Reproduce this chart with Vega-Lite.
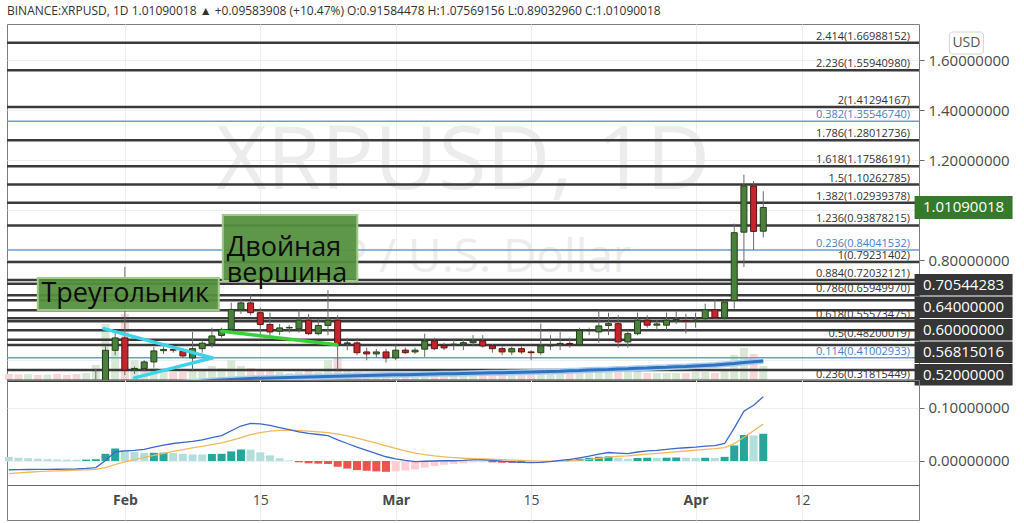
{
  "$schema": "https://vega.github.io/schema/vega-lite/v6.json",
  "background": "white",
  "padding": {"left": 4, "top": 4, "right": 0, "bottom": 0},
  "title": {"text": "BINANCE:XRPUSD, 1D  1.01090018 ▲ +0.09583908 (+10.47%)  O:0.91584478  H:1.07569156  L:0.89032960  C:1.01090018", "anchor": "start", "frame": "group", "fontSize": 12, "font": "Open Sans", "fontWeight": "normal", "color": "#333333", "offset": 6},
  "datasets": {
    "ohlc": [
      {"date": "2021-01-20", "open": 0.281, "high": 0.289, "low": 0.262, "close": 0.276, "volume": 120, "ma": 0.272, "macd": -0.0165, "signal": -0.024, "hist": 0.0075},
      {"date": "2021-01-21", "open": 0.276, "high": 0.279, "low": 0.248, "close": 0.255, "volume": 110, "ma": 0.273, "macd": -0.0163, "signal": -0.0225, "hist": 0.0062},
      {"date": "2021-01-22", "open": 0.255, "high": 0.276, "low": 0.244, "close": 0.272, "volume": 120, "ma": 0.274, "macd": -0.016, "signal": -0.0212, "hist": 0.0052},
      {"date": "2021-01-23", "open": 0.272, "high": 0.276, "low": 0.265, "close": 0.269, "volume": 100, "ma": 0.275, "macd": -0.0158, "signal": -0.0201, "hist": 0.0043},
      {"date": "2021-01-24", "open": 0.269, "high": 0.278, "low": 0.266, "close": 0.274, "volume": 110, "ma": 0.276, "macd": -0.0157, "signal": -0.0192, "hist": 0.0035},
      {"date": "2021-01-25", "open": 0.274, "high": 0.279, "low": 0.268, "close": 0.271, "volume": 120, "ma": 0.277, "macd": -0.0156, "signal": -0.0185, "hist": 0.0029},
      {"date": "2021-01-26", "open": 0.271, "high": 0.273, "low": 0.26, "close": 0.268, "volume": 100, "ma": 0.278, "macd": -0.0154, "signal": -0.0179, "hist": 0.0025},
      {"date": "2021-01-27", "open": 0.268, "high": 0.27, "low": 0.254, "close": 0.259, "volume": 120, "ma": 0.279, "macd": -0.015, "signal": -0.0173, "hist": 0.0023},
      {"date": "2021-01-28", "open": 0.259, "high": 0.273, "low": 0.256, "close": 0.269, "volume": 140, "ma": 0.281, "macd": -0.014, "signal": -0.0166, "hist": 0.0026},
      {"date": "2021-01-29", "open": 0.269, "high": 0.365, "low": 0.262, "close": 0.283, "volume": 300, "ma": 0.283, "macd": -0.0125, "signal": -0.0158, "hist": 0.0033},
      {"date": "2021-01-30", "open": 0.283, "high": 0.455, "low": 0.276, "close": 0.4395, "volume": 1120, "ma": 0.286, "macd": 0.001, "signal": -0.0125, "hist": 0.0135},
      {"date": "2021-01-31", "open": 0.4395, "high": 0.52, "low": 0.42, "close": 0.489, "volume": 600, "ma": 0.289, "macd": 0.017, "signal": -0.0066, "hist": 0.0236},
      {"date": "2021-02-01", "open": 0.489, "high": 0.773, "low": 0.34, "close": 0.36, "volume": 1320, "ma": 0.292, "macd": 0.019, "signal": -0.0015, "hist": 0.0205},
      {"date": "2021-02-02", "open": 0.362, "high": 0.375, "low": 0.345, "close": 0.367, "volume": 400, "ma": 0.295, "macd": 0.02, "signal": 0.0028, "hist": 0.0172},
      {"date": "2021-02-03", "open": 0.367, "high": 0.4, "low": 0.355, "close": 0.393, "volume": 240, "ma": 0.298, "macd": 0.022, "signal": 0.0067, "hist": 0.0153},
      {"date": "2021-02-04", "open": 0.393, "high": 0.453, "low": 0.37, "close": 0.437, "volume": 240, "ma": 0.301, "macd": 0.026, "signal": 0.0105, "hist": 0.0155},
      {"date": "2021-02-05", "open": 0.438, "high": 0.455, "low": 0.425, "close": 0.443, "volume": 180, "ma": 0.304, "macd": 0.03, "signal": 0.0144, "hist": 0.0156},
      {"date": "2021-02-06", "open": 0.443, "high": 0.452, "low": 0.43, "close": 0.44, "volume": 160, "ma": 0.307, "macd": 0.033, "signal": 0.0181, "hist": 0.0149},
      {"date": "2021-02-07", "open": 0.435, "high": 0.447, "low": 0.41, "close": 0.417, "volume": 160, "ma": 0.31, "macd": 0.035, "signal": 0.0215, "hist": 0.0135},
      {"date": "2021-02-08", "open": 0.409, "high": 0.513, "low": 0.36, "close": 0.446, "volume": 220, "ma": 0.313, "macd": 0.037, "signal": 0.0246, "hist": 0.0124},
      {"date": "2021-02-09", "open": 0.446, "high": 0.48, "low": 0.43, "close": 0.468, "volume": 200, "ma": 0.316, "macd": 0.04, "signal": 0.0277, "hist": 0.0123},
      {"date": "2021-02-10", "open": 0.466, "high": 0.53, "low": 0.45, "close": 0.497, "volume": 280, "ma": 0.319, "macd": 0.044, "signal": 0.0309, "hist": 0.0131},
      {"date": "2021-02-11", "open": 0.499, "high": 0.53, "low": 0.49, "close": 0.523, "volume": 240, "ma": 0.321, "macd": 0.048, "signal": 0.0344, "hist": 0.0136},
      {"date": "2021-02-12", "open": 0.523, "high": 0.63, "low": 0.51, "close": 0.603, "volume": 400, "ma": 0.323, "macd": 0.057, "signal": 0.0389, "hist": 0.0181},
      {"date": "2021-02-13", "open": 0.602, "high": 0.646, "low": 0.585, "close": 0.629, "volume": 280, "ma": 0.325, "macd": 0.066, "signal": 0.0443, "hist": 0.0217},
      {"date": "2021-02-14", "open": 0.629, "high": 0.66, "low": 0.58, "close": 0.59, "volume": 240, "ma": 0.327, "macd": 0.071, "signal": 0.0496, "hist": 0.0214},
      {"date": "2021-02-15", "open": 0.59, "high": 0.61, "low": 0.49, "close": 0.543, "volume": 200, "ma": 0.328, "macd": 0.07, "signal": 0.0537, "hist": 0.0163},
      {"date": "2021-02-16", "open": 0.543, "high": 0.59, "low": 0.49, "close": 0.513, "volume": 180, "ma": 0.329, "macd": 0.067, "signal": 0.0564, "hist": 0.0106},
      {"date": "2021-02-17", "open": 0.516, "high": 0.545, "low": 0.5, "close": 0.529, "volume": 160, "ma": 0.33, "macd": 0.063, "signal": 0.0577, "hist": 0.0053},
      {"date": "2021-02-18", "open": 0.529, "high": 0.54, "low": 0.51, "close": 0.531, "volume": 140, "ma": 0.331, "macd": 0.059, "signal": 0.058, "hist": 0.001},
      {"date": "2021-02-19", "open": 0.526, "high": 0.6, "low": 0.51, "close": 0.56, "volume": 160, "ma": 0.332, "macd": 0.055, "signal": 0.0574, "hist": -0.0024},
      {"date": "2021-02-20", "open": 0.56, "high": 0.585, "low": 0.5, "close": 0.506, "volume": 200, "ma": 0.333, "macd": 0.052, "signal": 0.0563, "hist": -0.0043},
      {"date": "2021-02-21", "open": 0.506, "high": 0.565, "low": 0.5, "close": 0.539, "volume": 160, "ma": 0.334, "macd": 0.05, "signal": 0.055, "hist": -0.005},
      {"date": "2021-02-22", "open": 0.539, "high": 0.68, "low": 0.5, "close": 0.56, "volume": 400, "ma": 0.335, "macd": 0.048, "signal": 0.0536, "hist": -0.0056},
      {"date": "2021-02-23", "open": 0.56, "high": 0.58, "low": 0.36, "close": 0.466, "volume": 440, "ma": 0.336, "macd": 0.04, "signal": 0.0509, "hist": -0.0109},
      {"date": "2021-02-24", "open": 0.466, "high": 0.49, "low": 0.44, "close": 0.469, "volume": 200, "ma": 0.337, "macd": 0.033, "signal": 0.0473, "hist": -0.0143},
      {"date": "2021-02-25", "open": 0.469, "high": 0.49, "low": 0.42, "close": 0.43, "volume": 160, "ma": 0.338, "macd": 0.026, "signal": 0.0431, "hist": -0.0171},
      {"date": "2021-02-26", "open": 0.433, "high": 0.45, "low": 0.4, "close": 0.425, "volume": 140, "ma": 0.339, "macd": 0.02, "signal": 0.0384, "hist": -0.0184},
      {"date": "2021-02-27", "open": 0.425, "high": 0.445, "low": 0.41, "close": 0.433, "volume": 120, "ma": 0.34, "macd": 0.014, "signal": 0.0336, "hist": -0.0196},
      {"date": "2021-02-28", "open": 0.433, "high": 0.445, "low": 0.39, "close": 0.409, "volume": 140, "ma": 0.341, "macd": 0.008, "signal": 0.0284, "hist": -0.0204},
      {"date": "2021-03-01", "open": 0.409, "high": 0.46, "low": 0.4, "close": 0.44, "volume": 160, "ma": 0.342, "macd": 0.004, "signal": 0.0236, "hist": -0.0196},
      {"date": "2021-03-02", "open": 0.44, "high": 0.45, "low": 0.425, "close": 0.43, "volume": 140, "ma": 0.342, "macd": 0.001, "signal": 0.019, "hist": -0.018},
      {"date": "2021-03-03", "open": 0.433, "high": 0.45, "low": 0.425, "close": 0.44, "volume": 130, "ma": 0.343, "macd": -0.001, "signal": 0.015, "hist": -0.016},
      {"date": "2021-03-04", "open": 0.444, "high": 0.506, "low": 0.413, "close": 0.477, "volume": 180, "ma": 0.344, "macd": -0.0005, "signal": 0.0119, "hist": -0.0124},
      {"date": "2021-03-05", "open": 0.477, "high": 0.49, "low": 0.44, "close": 0.446, "volume": 160, "ma": 0.345, "macd": 0.0, "signal": 0.0095, "hist": -0.0095},
      {"date": "2021-03-06", "open": 0.459, "high": 0.47, "low": 0.44, "close": 0.449, "volume": 120, "ma": 0.346, "macd": 0.0005, "signal": 0.0077, "hist": -0.0072},
      {"date": "2021-03-07", "open": 0.462, "high": 0.48, "low": 0.44, "close": 0.464, "volume": 120, "ma": 0.346, "macd": 0.0005, "signal": 0.0063, "hist": -0.0058},
      {"date": "2021-03-08", "open": 0.464, "high": 0.485, "low": 0.44, "close": 0.47, "volume": 130, "ma": 0.347, "macd": 0.001, "signal": 0.0052, "hist": -0.0042},
      {"date": "2021-03-09", "open": 0.47, "high": 0.5, "low": 0.455, "close": 0.477, "volume": 140, "ma": 0.348, "macd": 0.002, "signal": 0.0046, "hist": -0.0026},
      {"date": "2021-03-10", "open": 0.477, "high": 0.5, "low": 0.45, "close": 0.457, "volume": 160, "ma": 0.349, "macd": 0.002, "signal": 0.0041, "hist": -0.0021},
      {"date": "2021-03-11", "open": 0.457, "high": 0.465, "low": 0.43, "close": 0.446, "volume": 140, "ma": 0.35, "macd": 0.001, "signal": 0.0035, "hist": -0.0025},
      {"date": "2021-03-12", "open": 0.446, "high": 0.455, "low": 0.42, "close": 0.433, "volume": 140, "ma": 0.35, "macd": -0.0005, "signal": 0.0027, "hist": -0.0032},
      {"date": "2021-03-13", "open": 0.433, "high": 0.455, "low": 0.42, "close": 0.446, "volume": 120, "ma": 0.351, "macd": -0.0015, "signal": 0.0018, "hist": -0.0033},
      {"date": "2021-03-14", "open": 0.446, "high": 0.455, "low": 0.425, "close": 0.433, "volume": 110, "ma": 0.352, "macd": -0.0025, "signal": 0.001, "hist": -0.0035},
      {"date": "2021-03-15", "open": 0.433, "high": 0.44, "low": 0.4, "close": 0.43, "volume": 130, "ma": 0.353, "macd": -0.003, "signal": 0.0002, "hist": -0.0032},
      {"date": "2021-03-16", "open": 0.43, "high": 0.546, "low": 0.42, "close": 0.457, "volume": 160, "ma": 0.354, "macd": -0.0025, "signal": -0.0004, "hist": -0.0021},
      {"date": "2021-03-17", "open": 0.457, "high": 0.5, "low": 0.44, "close": 0.46, "volume": 140, "ma": 0.355, "macd": -0.001, "signal": -0.0005, "hist": -0.0005},
      {"date": "2021-03-18", "open": 0.465, "high": 0.513, "low": 0.44, "close": 0.467, "volume": 140, "ma": 0.356, "macd": 0.001, "signal": -0.0002, "hist": 0.0012},
      {"date": "2021-03-19", "open": 0.467, "high": 0.49, "low": 0.45, "close": 0.462, "volume": 140, "ma": 0.358, "macd": 0.003, "signal": 0.0004, "hist": 0.0026},
      {"date": "2021-03-20", "open": 0.462, "high": 0.53, "low": 0.455, "close": 0.519, "volume": 240, "ma": 0.359, "macd": 0.006, "signal": 0.0016, "hist": 0.0044},
      {"date": "2021-03-21", "open": 0.519, "high": 0.53, "low": 0.5, "close": 0.52, "volume": 160, "ma": 0.361, "macd": 0.009, "signal": 0.003, "hist": 0.006},
      {"date": "2021-03-22", "open": 0.513, "high": 0.6, "low": 0.47, "close": 0.537, "volume": 240, "ma": 0.362, "macd": 0.013, "signal": 0.005, "hist": 0.008},
      {"date": "2021-03-23", "open": 0.539, "high": 0.59, "low": 0.5, "close": 0.546, "volume": 200, "ma": 0.363, "macd": 0.016, "signal": 0.0072, "hist": 0.0088},
      {"date": "2021-03-24", "open": 0.546, "high": 0.58, "low": 0.45, "close": 0.473, "volume": 240, "ma": 0.365, "macd": 0.015, "signal": 0.0088, "hist": 0.0062},
      {"date": "2021-03-25", "open": 0.473, "high": 0.52, "low": 0.45, "close": 0.506, "volume": 200, "ma": 0.366, "macd": 0.014, "signal": 0.0098, "hist": 0.0042},
      {"date": "2021-03-26", "open": 0.506, "high": 0.59, "low": 0.5, "close": 0.56, "volume": 200, "ma": 0.368, "macd": 0.017, "signal": 0.0113, "hist": 0.0057},
      {"date": "2021-03-27", "open": 0.56, "high": 0.58, "low": 0.53, "close": 0.54, "volume": 140, "ma": 0.369, "macd": 0.019, "signal": 0.0128, "hist": 0.0062},
      {"date": "2021-03-28", "open": 0.54, "high": 0.56, "low": 0.52, "close": 0.545, "volume": 140, "ma": 0.371, "macd": 0.02, "signal": 0.0142, "hist": 0.0058},
      {"date": "2021-03-29", "open": 0.54, "high": 0.59, "low": 0.52, "close": 0.56, "volume": 140, "ma": 0.372, "macd": 0.022, "signal": 0.0158, "hist": 0.0062},
      {"date": "2021-03-30", "open": 0.56, "high": 0.595, "low": 0.545, "close": 0.562, "volume": 140, "ma": 0.374, "macd": 0.024, "signal": 0.0174, "hist": 0.0066},
      {"date": "2021-03-31", "open": 0.558, "high": 0.586, "low": 0.506, "close": 0.557, "volume": 140, "ma": 0.375, "macd": 0.025, "signal": 0.0189, "hist": 0.0061},
      {"date": "2021-04-01", "open": 0.557, "high": 0.59, "low": 0.53, "close": 0.56, "volume": 160, "ma": 0.377, "macd": 0.026, "signal": 0.0204, "hist": 0.0056},
      {"date": "2021-04-02", "open": 0.566, "high": 0.626, "low": 0.56, "close": 0.602, "volume": 160, "ma": 0.379, "macd": 0.028, "signal": 0.0219, "hist": 0.0061},
      {"date": "2021-04-03", "open": 0.602, "high": 0.646, "low": 0.565, "close": 0.57, "volume": 140, "ma": 0.381, "macd": 0.029, "signal": 0.0233, "hist": 0.0057},
      {"date": "2021-04-04", "open": 0.569, "high": 0.64, "low": 0.56, "close": 0.633, "volume": 180, "ma": 0.384, "macd": 0.033, "signal": 0.0252, "hist": 0.0078},
      {"date": "2021-04-05", "open": 0.639, "high": 0.946, "low": 0.606, "close": 0.91, "volume": 500, "ma": 0.387, "macd": 0.062, "signal": 0.0326, "hist": 0.0294},
      {"date": "2021-04-06", "open": 0.912, "high": 1.142, "low": 0.773, "close": 1.097, "volume": 640, "ma": 0.391, "macd": 0.094, "signal": 0.0449, "hist": 0.0491},
      {"date": "2021-04-07", "open": 1.097, "high": 1.116, "low": 0.841, "close": 0.9151, "volume": 520, "ma": 0.394, "macd": 0.105, "signal": 0.0569, "hist": 0.0481},
      {"date": "2021-04-08", "open": 0.91584478, "high": 1.07569156, "low": 0.8903296, "close": 1.01090018, "volume": 280, "ma": 0.397, "macd": 0.121, "signal": 0.0697, "hist": 0.0513}
    ],
    "levels": [
      {"label": "2.414(1.66988152)", "price": 1.66988152, "kind": "fib"},
      {"label": "2.236(1.55940980)", "price": 1.5594098, "kind": "fib"},
      {"label": "2(1.41294167)", "price": 1.41294167, "kind": "fib"},
      {"label": "0.382(1.35546740)", "price": 1.3554674, "kind": "blue"},
      {"label": "1.786(1.28012736)", "price": 1.28012736, "kind": "fib"},
      {"label": "1.618(1.17586191)", "price": 1.17586191, "kind": "fib"},
      {"label": "1.5(1.10262785)", "price": 1.10262785, "kind": "fib"},
      {"label": "1.382(1.02939378)", "price": 1.02939378, "kind": "fib"},
      {"label": "1.236(0.93878215)", "price": 0.93878215, "kind": "fib"},
      {"label": "0.236(0.84041532)", "price": 0.84041532, "kind": "blue"},
      {"label": "1(0.79231402)", "price": 0.79231402, "kind": "fib"},
      {"label": "0.884(0.72032121)", "price": 0.72032121, "kind": "fib"},
      {"label": "0.786(0.65949970)", "price": 0.6594997, "kind": "fib"},
      {"label": "0.618(0.55573475)", "price": 0.55573475, "kind": "fib"},
      {"label": "0.5(0.48200019)", "price": 0.48200019, "kind": "fib"},
      {"label": "0.114(0.41002933)", "price": 0.41002933, "kind": "blue"},
      {"label": "0.236(0.31815449)", "price": 0.31815449, "kind": "fib"},
      {"label": null, "price": 0.70544283, "kind": "hline"},
      {"label": null, "price": 0.64, "kind": "hline"},
      {"label": null, "price": 0.6, "kind": "hline"},
      {"label": null, "price": 0.56815016, "kind": "hline"},
      {"label": null, "price": 0.52, "kind": "hline"},
      {"label": null, "price": 0.4607, "kind": "hline"},
      {"label": null, "price": 0.3607, "kind": "hline"}
    ]
  },
  "spacing": 0,
  "bounds": "flush",
  "vconcat": [
    {
      "width": 912,
      "height": 356,
      "layer": [
        {
          "data": {"name": "ohlc"},
          "mark": {"type": "bar", "width": 8},
          "encoding": {
            "x": {"field": "date", "type": "temporal", "scale": {"type": "utc", "domain": [{"year": 2021, "month": 1, "date": 20, "hours": 8, "utc": true}, {"year": 2021, "month": 4, "date": 23, "hours": 14, "utc": true}]}, "axis": {"values": [{"year": 2021, "month": 2, "date": 1, "utc": true}, {"year": 2021, "month": 2, "date": 15, "utc": true}, {"year": 2021, "month": 3, "date": 1, "utc": true}, {"year": 2021, "month": 3, "date": 15, "utc": true}, {"year": 2021, "month": 4, "date": 1, "utc": true}, {"year": 2021, "month": 4, "date": 12, "utc": true}], "labels": false, "ticks": false, "domain": false, "title": null, "grid": true, "gridColor": "#eeeeee"}},
            "y": {"field": "volume", "type": "quantitative", "scale": {"domain": [0, 7120]}, "axis": null},
            "color": {"condition": {"test": "datum.close >= datum.open", "value": "#d8e8d5"}, "value": "#f5d7d7"}
          }
        },
        {
          "layer": [
            {
              "data": {"values": [{"t": "XRPUSD, 1D", "date": "2021-03-07T23:00:00Z", "price": 1.0847}]},
              "mark": {"type": "text", "fontSize": 88, "color": "#ececec", "align": "center", "baseline": "alphabetic", "font": "Open Sans"},
              "encoding": {
                "x": {"field": "date", "type": "temporal", "scale": {"type": "utc", "domain": [{"year": 2021, "month": 1, "date": 20, "hours": 8, "utc": true}, {"year": 2021, "month": 4, "date": 23, "hours": 14, "utc": true}]}},
                "y": {"field": "price", "type": "quantitative", "scale": {"domain": [0.3207, 1.7447], "zero": false, "nice": false}, "axis": {"orient": "right", "values": [0.4, 0.6, 0.8, 1.0, 1.2, 1.4, 1.6], "labelExpr": "(datum.value > 0.79 && datum.value < 0.81) || datum.value > 1.1 ? format(datum.value, '.8f') : ''", "title": null, "domain": false, "tickSize": 5, "tickColor": "#666666", "labelPadding": 4, "labelFontSize": 15, "labelColor": "#4a4a4a", "labelFont": "Open Sans", "grid": true, "gridColor": "#eeeeee"}},
                "text": {"field": "t"}
              }
            },
            {
              "data": {"values": [{"t": "XRP / U.S. Dollar", "date": "2021-03-07T11:00:00Z", "price": 0.7527}]},
              "mark": {"type": "text", "fontSize": 46, "color": "#ececec", "align": "center", "baseline": "alphabetic", "font": "Open Sans"},
              "encoding": {
                "x": {"field": "date", "type": "temporal"},
                "y": {"field": "price", "type": "quantitative"},
                "text": {"field": "t"}
              }
            },
            {
              "data": {"name": "levels"},
              "mark": {"type": "rule"},
              "encoding": {
                "y": {"field": "price", "type": "quantitative"},
                "color": {"condition": {"test": "datum.kind == 'blue'", "value": "#6a9bd6"}, "value": "#3a3a3a"},
                "strokeWidth": {"condition": {"test": "datum.kind == 'blue'", "value": 1.5}, "value": 2.5}
              }
            },
            {
              "data": {"name": "ohlc"},
              "mark": {"type": "line", "color": "#a9cdee", "strokeWidth": 6, "clip": true},
              "encoding": {
                "x": {"field": "date", "type": "temporal"},
                "y": {"field": "ma", "type": "quantitative"}
              }
            },
            {
              "data": {"name": "ohlc"},
              "mark": {"type": "line", "color": "#2f72c2", "strokeWidth": 3, "clip": true},
              "encoding": {
                "x": {"field": "date", "type": "temporal"},
                "y": {"field": "ma", "type": "quantitative"}
              }
            },
            {
              "data": {"name": "ohlc"},
              "mark": {"type": "rule", "color": "#6a6a6a", "strokeWidth": 1, "clip": true},
              "encoding": {
                "x": {"field": "date", "type": "temporal"},
                "y": {"field": "low", "type": "quantitative"},
                "y2": {"field": "high"}
              }
            },
            {
              "data": {"name": "ohlc"},
              "mark": {"type": "bar", "width": 6, "strokeWidth": 1, "clip": true},
              "encoding": {
                "x": {"field": "date", "type": "temporal"},
                "y": {"field": "open", "type": "quantitative"},
                "y2": {"field": "close"},
                "fill": {"condition": {"test": "datum.close >= datum.open", "value": "#4b803c"}, "value": "#c2262c"},
                "stroke": {"condition": {"test": "datum.close >= datum.open", "value": "#23401b"}, "value": "#5e1212"}
              }
            },
            {
              "data": {"values": [
                {"name": "tri", "d1": "2021-01-29T20:00:00Z", "p1": 0.526, "d2": "2021-02-10T01:00:00Z", "p2": 0.409},
                {"name": "tri", "d1": "2021-02-02T00:00:00Z", "p1": 0.329, "d2": "2021-02-10T01:00:00Z", "p2": 0.409},
                {"name": "top", "d1": "2021-02-11T01:00:00Z", "p1": 0.5155, "d2": "2021-02-22T22:00:00Z", "p2": 0.462}
              ]},
              "mark": {"type": "rule", "strokeWidth": 3.5, "strokeCap": "round"},
              "encoding": {
                "x": {"field": "d1", "type": "temporal"},
                "x2": {"field": "d2"},
                "y": {"field": "p1", "type": "quantitative"},
                "y2": {"field": "p2"},
                "color": {"condition": {"test": "datum.name == 'tri'", "value": "#3dd3e8"}, "value": "#3bd03b"}
              }
            },
            {
              "data": {"values": [
                {"text": "Треугольник", "d1": "2021-01-23T00:00:00Z", "d2": "2021-02-10T17:00:00Z", "p1": 0.7287, "p2": 0.6007, "dm": "2021-01-23T09:00:00Z", "pm": 0.6647},
                {"text": "Двойная\nвершина", "d1": "2021-02-11T03:00:00Z", "d2": "2021-02-25T00:45:00Z", "p1": 0.9807, "p2": 0.7167, "dm": "2021-02-11T12:45:00Z", "pm": 0.8487}
              ]},
              "layer": [
                {
                  "mark": {"type": "rect", "fill": "#55913f", "fillOpacity": 0.94, "stroke": "#9fcb87", "strokeWidth": 2},
                  "encoding": {
                    "x": {"field": "d1", "type": "temporal"},
                    "x2": {"field": "d2"},
                    "y": {"field": "p1", "type": "quantitative"},
                    "y2": {"field": "p2"}
                  }
                },
                {
                  "mark": {"type": "text", "fontSize": 27, "color": "#0d0d0d", "align": "left", "baseline": "middle", "lineBreak": "\n", "lineHeight": 26, "font": "Open Sans"},
                  "encoding": {
                    "x": {"field": "dm", "type": "temporal"},
                    "y": {"field": "pm", "type": "quantitative"},
                    "text": {"field": "text"}
                  }
                }
              ]
            },
            {
              "data": {"name": "levels"},
              "transform": [{"filter": "datum.label != null"}],
              "mark": {"type": "text", "align": "right", "baseline": "bottom", "dx": -4, "dy": -1, "fontSize": 11, "font": "Open Sans"},
              "encoding": {
                "x": {"datum": {"year": 2021, "month": 4, "date": 23, "hours": 14, "utc": true}, "type": "temporal"},
                "y": {"field": "price", "type": "quantitative"},
                "text": {"field": "label"},
                "color": {"condition": {"test": "datum.kind == 'blue'", "value": "#4a7fc4"}, "value": "#333333"}
              }
            },
            {
              "data": {"values": [{"price": 1.01090018}]},
              "layer": [
                {
                  "mark": {"type": "tick", "orient": "horizontal", "size": 98, "thickness": 23, "color": "#347a2a", "opacity": 1},
                  "encoding": {
                    "x": {"datum": {"year": 2021, "month": 4, "date": 28, "hours": 17, "utc": true}, "type": "temporal"},
                    "y": {"field": "price", "type": "quantitative"}
                  }
                },
                {
                  "mark": {"type": "text", "color": "white", "fontSize": 15, "align": "center", "baseline": "middle", "font": "Open Sans"},
                  "encoding": {
                    "x": {"datum": {"year": 2021, "month": 4, "date": 28, "hours": 17, "utc": true}, "type": "temporal"},
                    "y": {"field": "price", "type": "quantitative"},
                    "text": {"field": "price", "type": "quantitative", "format": ".8f"}
                  }
                }
              ]
            },
            {
              "data": {"values": [{"t": "USD", "price": 1.6687}]},
              "layer": [
                {
                  "mark": {"type": "tick", "orient": "horizontal", "size": 34, "thickness": 22, "color": "white", "stroke": "#d4d4d4", "strokeWidth": 1, "opacity": 1, "cornerRadius": 3},
                  "encoding": {
                    "x": {"datum": {"year": 2021, "month": 4, "date": 29, "utc": true}, "type": "temporal"},
                    "y": {"field": "price", "type": "quantitative"}
                  }
                },
                {
                  "mark": {"type": "text", "color": "#555555", "fontSize": 14, "align": "center", "baseline": "middle", "font": "Open Sans"},
                  "encoding": {
                    "x": {"datum": {"year": 2021, "month": 4, "date": 29, "utc": true}, "type": "temporal"},
                    "y": {"field": "price", "type": "quantitative"},
                    "text": {"field": "t"}
                  }
                }
              ]
            }
          ]
        },
        {
          "data": {"values": [{"price": 0.70544283}, {"price": 0.64}, {"price": 0.6}, {"price": 0.56815016}, {"price": 0.52}]},
          "encoding": {
            "x": {"datum": {"year": 2021, "month": 4, "date": 28, "hours": 17, "utc": true}, "type": "temporal"},
            "y": {"field": "price", "type": "ordinal", "sort": "descending", "scale": {"type": "point", "range": [260.75, 350.75], "padding": 0}, "axis": null}
          },
          "layer": [
            {"mark": {"type": "tick", "orient": "horizontal", "size": 98, "thickness": 21.5, "color": "#363636", "opacity": 1}},
            {"mark": {"type": "text", "color": "white", "fontSize": 15, "align": "center", "baseline": "middle", "font": "Open Sans"}, "encoding": {"text": {"field": "price", "type": "quantitative", "format": ".8f"}}}
          ]
        }
      ],
      "resolve": {"scale": {"y": "independent"}}
    },
    {
      "width": 912,
      "height": 140,
      "data": {"name": "ohlc"},
      "transform": [{"window": [{"op": "lag", "field": "hist", "as": "prev"}], "sort": [{"field": "date"}]}],
      "encoding": {
        "x": {"field": "date", "type": "temporal", "scale": {"type": "utc", "domain": [{"year": 2021, "month": 1, "date": 20, "hours": 8, "utc": true}, {"year": 2021, "month": 4, "date": 23, "hours": 14, "utc": true}]}, "axis": {"values": [{"year": 2021, "month": 2, "date": 1, "utc": true}, {"year": 2021, "month": 2, "date": 15, "utc": true}, {"year": 2021, "month": 3, "date": 1, "utc": true}, {"year": 2021, "month": 3, "date": 15, "utc": true}, {"year": 2021, "month": 4, "date": 1, "utc": true}, {"year": 2021, "month": 4, "date": 12, "utc": true}], "offset": -35, "labelExpr": "utcdate(datum.value) == 1 ? utcFormat(datum.value, '%b') : utcFormat(datum.value, '%d')", "labelFontWeight": {"condition": {"test": "utcdate(datum.value) == 1", "value": "bold"}, "value": "normal"}, "labelFontSize": 14, "labelColor": "#4a4a4a", "labelFont": "Open Sans", "ticks": false, "labelPadding": 8, "domain": true, "domainColor": "#666666", "grid": true, "gridColor": "#eeeeee", "title": null}}
      },
      "layer": [
        {
          "mark": {"type": "bar", "width": 8},
          "encoding": {
            "y": {"field": "hist", "type": "quantitative", "scale": {"domain": [-0.1113, 0.1528], "zero": false, "nice": false}, "axis": {"orient": "right", "values": [0, 0.1], "format": ".8f", "title": null, "domain": false, "tickSize": 5, "tickColor": "#666666", "labelPadding": 4, "labelFontSize": 15, "labelColor": "#4a4a4a", "labelFont": "Open Sans", "grid": true, "gridColor": "#eeeeee"}},
            "color": {"condition": [
              {"test": "datum.hist >= 0 && (datum.prev == null || datum.hist < datum.prev)", "value": "#b2dfdb"},
              {"test": "datum.hist >= 0", "value": "#26a69a"},
              {"test": "datum.hist < datum.prev", "value": "#ef5350"}
            ], "value": "#ffcdd2"}
          }
        },
        {
          "mark": {"type": "line", "color": "#f2b95a", "strokeWidth": 1.3},
          "encoding": {"y": {"field": "signal", "type": "quantitative"}}
        },
        {
          "mark": {"type": "line", "color": "#3d68c9", "strokeWidth": 1.3},
          "encoding": {"y": {"field": "macd", "type": "quantitative"}}
        }
      ]
    }
  ],
  "config": {
    "font": "Open Sans",
    "view": {"stroke": "#7d7d7d", "strokeWidth": 1}
  }
}
